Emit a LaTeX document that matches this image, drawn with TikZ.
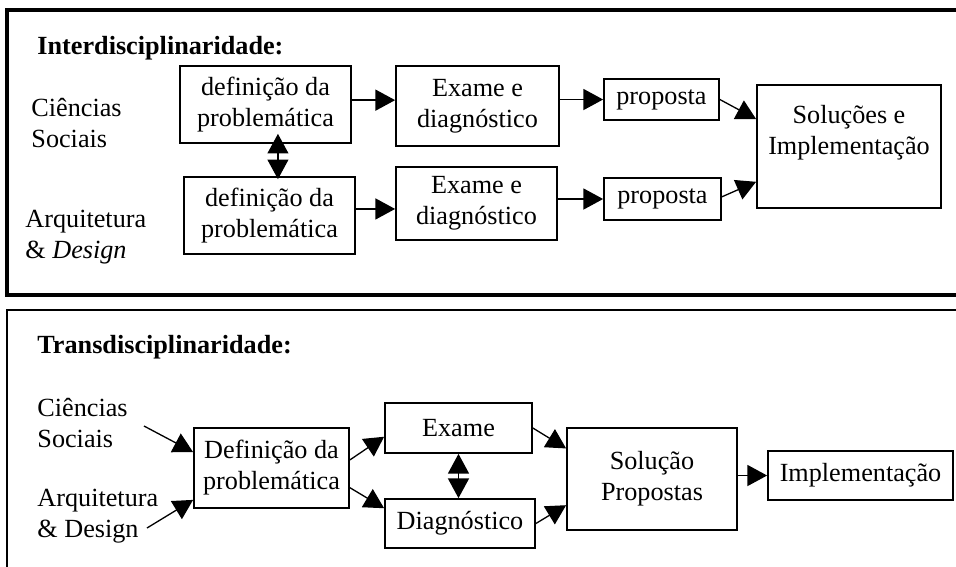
\documentclass[tikz,border=0pt]{standalone}
\usepackage{fontspec}
\setmainfont{Liberation Serif}
\usetikzlibrary{arrows.meta,positioning,calc}
\tikzset{
  >={Triangle[length=9pt,width=9.6pt]},
  ptitle/.style={font=\fontsize{12}{14.2}\selectfont\bfseries,anchor=west,inner sep=0pt},
  sidelab/.style={align=left,anchor=west,inner sep=0pt},
  stagebox/.style={draw,line width=0.8pt,align=center,inner sep=2pt},
  flow/.style={->,line width=0.6pt},
  both/.style={<->,line width=0.6pt},
  panel/.style={line width=#1},
}
\begin{document}
\begin{tikzpicture}[x=0.458pt,y=-0.458pt,font=\fontsize{12}{14.2}\selectfont]
\useasboundingbox (0,0) rectangle (956,566);

% ================= TOP PANEL =================
\draw[panel=1.4pt] (970,10) -- (7,10) -- (7,295) -- (970,295);
\node[ptitle] (titleI) at (37,48) {Interdisciplinaridade:};
\node[sidelab] (csI) at (31,123) {Ciências\\Sociais};
\node[sidelab] (adI) at (25,237) {Arquitetura\\\& \textit{Design}};

\node[stagebox,minimum width=171*0.458pt,minimum height=77*0.458pt] (defI) at (265.5,104.5) {definição da\\problemática};
\node[stagebox,minimum width=171*0.458pt,minimum height=77*0.458pt] (defII) at (269.5,215.5) {definição da\\problemática};
\node[stagebox,minimum width=163*0.458pt,minimum height=80*0.458pt] (exI) at (477.5,106) {Exame e\\diagnóstico};
\node[stagebox,minimum width=161*0.458pt,minimum height=73*0.458pt] (exII) at (476.5,203.5) {Exame e\\diagnóstico};
\node[stagebox,minimum width=115*0.458pt,minimum height=41*0.458pt] (propI) at (661.5,99.5) {proposta};
\node[stagebox,minimum width=117*0.458pt,minimum height=42*0.458pt] (propII) at (662.5,199) {proposta};
\node[stagebox,minimum width=184*0.458pt,minimum height=123*0.458pt] (solI) at (849,146.5) {};
\node[align=center] (solItxt) at (849,133) {Soluções e\\Implementação};

\draw[both,shorten <=-4.6pt,shorten >=-1.4pt] ([xshift=5.7pt]defI.south) -- ([xshift=5.7pt]defI.south |- defII.north);
\draw[flow] ([yshift=2pt]defI.east) -- ([yshift=2pt]defI.east -| exI.west);
\draw[flow] ([yshift=3pt]defII.east) -- ([yshift=3pt]defII.east -| exII.west);
\draw[flow] (exI.east |- propI) -- (propI.west);
\draw[flow] (exII.east |- propII) -- (propII.west);
\draw[flow] (propI.east) -- ([yshift=-16pt]solI.north west);
\draw[flow] ([yshift=1pt]propII.east) -- ([yshift=12.4pt]solI.south west);

% ================= BOTTOM PANEL =================
\draw[panel=0.7pt] (970,310) -- (7,310) -- (7,580);
\node[ptitle] (titleT) at (37,347) {Transdisciplinaridade:};
\node[sidelab] (csT) at (37,423) {Ciências\\Sociais};
\node[sidelab] (adT) at (37,516) {Arquitetura\\\& Design};
\coordinate (csTout) at (144,426);
\coordinate (adTout) at (147,528);

\node[stagebox,minimum width=155*0.458pt,minimum height=80*0.458pt] (defT) at (271.5,468) {Definição da\\problemática};
\node[stagebox,minimum width=147*0.458pt,minimum height=50*0.458pt] (exT) at (458.5,428) {Exame};
\node[stagebox,minimum width=150*0.458pt,minimum height=49*0.458pt] (diagT) at (460,523.5) {Diagnóstico};
\node[stagebox,minimum width=170*0.458pt,minimum height=102*0.458pt] (solT) at (652,479) {Solução\\Propostas};
\node[stagebox,minimum width=185*0.458pt,minimum height=49*0.458pt] (implT) at (860.5,475.5) {Implementação};

\draw[flow] (csTout) -- ([yshift=7.3pt]defT.west);
\draw[flow] (adTout) -- ([yshift=-14.6pt]defT.west);
\draw[flow] ([yshift=3.7pt]defT.east) -- ([yshift=-4pt]exT.west);
\draw[flow] ([yshift=-9pt]defT.east) -- ([yshift=7pt]diagT.west);
\draw[both] (exT.south) -- (exT.south |- diagT.north);
\draw[flow] (exT.east) -- ([yshift=14pt]solT.west);
\draw[flow] (diagT.east) -- ([yshift=-12pt]solT.west);
\draw[flow] (solT.east |- implT) -- (implT.west);

\end{tikzpicture}
\end{document}
